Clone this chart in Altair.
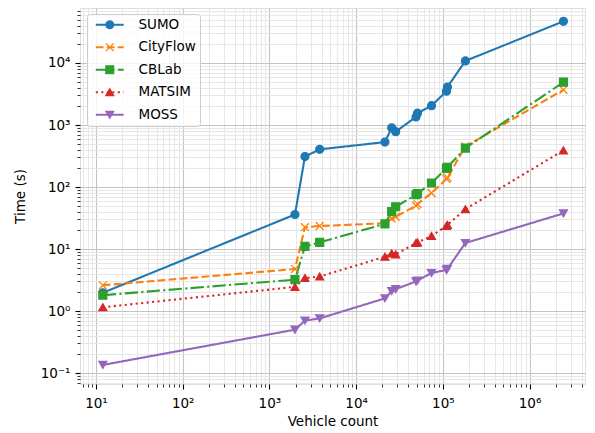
import altair as alt
import pandas as pd

# ---------------- data ----------------
series_names = ["SUMO", "CityFlow", "CBLab", "MATSIM", "MOSS"]
vehicles = [12, 1970, 2570, 3800, 21500, 25700, 28600, 49000, 51000, 74000, 110000, 113000, 182000, 2460000]
sumo = [1.97, 36, 310, 405, 530, 900, 780, 1350, 1550, 2050, 3500, 4100, 10800, 47000]
cityflow = [2.6, 4.75, 22.5, 23.5, 26, 31, 33, 50, 53, 80, 135, 142, 450, 3700]
cblab = [1.8, 3.2, 11, 12.8, 25.5, 40, 48, 75, 78, 116, 200, 208, 425, 4900]
matsim = [1.15, 2.45, 3.4, 3.6, 7.5, 8.5, 8.2, 12.5, 12.8, 16.2, 23.5, 24.5, 44, 390]
moss = [0.135, 0.5, 0.7, 0.76, 1.6, 2.1, 2.25, 3.0, 3.1, 4.1, 4.6, 4.8, 12.5, 37.5]

colors = ["#1f77b4", "#ff7f0e", "#2ca02c", "#d62728", "#9467bd"]
dashes = [[1, 0], [7.7, 3.3], [13.3, 3.3, 2.1, 3.3], [2.1, 3.4], [1, 0]]
shapes = ["circle", "M-1,-1L1,1M-1,1L1,-1", "square", "triangle-up", "triangle-down"]

x_domain = [6.54, 4.36e6]
y_domain = [0.0665, 77100]
x_ticks = [m * 10 ** e for e in range(0, 7) for m in range(1, 10) if x_domain[0] <= m * 10 ** e <= x_domain[1]]
y_ticks = [round(m * 10.0 ** e, 6) for e in range(-2, 5) for m in range(1, 10) if y_domain[0] <= m * 10.0 ** e <= y_domain[1]]

rows = []
for name, vals in zip(series_names, [sumo, cityflow, cblab, matsim, moss]):
    for xv, yv in zip(vehicles, vals):
        rows.append({"Vehicle count": xv, "Time": yv, "series": name, "series_p": name + "_p"})
df = pd.DataFrame(rows)
point_names = [n + "_p" for n in series_names]

# ---------------- helpers ----------------
MAJOR = "abs(log(datum.value)/LN10 - round(log(datum.value)/LN10)) < 0.001"
SUP = "['\u207b\u00b9','\u2070','\u00b9','\u00b2','\u00b3','\u2074','\u2075','\u2076']"
LABEL = f"{MAJOR} ? '10' + {SUP}[round(log(datum.value)/LN10) + 1] : ''"

def axis(title, values, **kw):
    return alt.Axis(
        title=title, values=values, labelExpr=LABEL, labelOverlap=False,
        grid=True,
        gridColor={"condition": {"test": MAJOR, "value": "#c4c4c4"}, "value": "#e4e4e4"},
        gridWidth={"condition": {"test": MAJOR, "value": 1.1}, "value": 0.9},
        tickSize={"condition": {"test": MAJOR, "value": 5}, "value": 3},
        tickWidth={"condition": {"test": MAJOR, "value": 1.1}, "value": 0.8},
        tickColor="#000000", domain=False,
        labelFont="DejaVu Sans", labelFontSize=13.5, labelColor="#000000",
        titleFont="DejaVu Sans", titleFontSize=13.5, titleFontWeight="normal", titleColor="#000000",
        **kw,
    )

x_enc = alt.X("Vehicle count:Q", scale=alt.Scale(type="log", domain=x_domain, nice=False),
              axis=axis("Vehicle count", x_ticks, labelPadding=7, titlePadding=5))
y_enc = alt.Y("Time:Q", scale=alt.Scale(type="log", domain=y_domain, nice=False),
              axis=axis("Time (s)", y_ticks, labelPadding=5, titlePadding=13))

legend_common = dict(
    title=None, orient="none", legendX=7, legendY=6, symbolSize=60,
    symbolOffset=12, labelOffset=22, padding=4, rowPadding=7.5,
    labelFont="DejaVu Sans", labelFontSize=13.5, cornerRadius=3,
)

line_legend = alt.Legend(
    symbolType="M-3.6,0L3.6,0", symbolStrokeWidth=2.1,
    fillColor="rgba(255,255,255,0.8)", strokeColor="#cccccc",
    labelColor="#000000", zindex=1, **legend_common,
)
point_legend = alt.Legend(
    symbolStrokeWidth=1.3, labelColor="transparent", labelExpr="' '", zindex=2, **legend_common,
)

base = alt.Chart(df)

lines = base.mark_line(strokeWidth=2.1, strokeJoin="round", clip=True).encode(
    x=x_enc, y=y_enc,
    color=alt.Color("series:N", scale=alt.Scale(domain=series_names, range=colors), legend=line_legend),
    strokeDash=alt.StrokeDash("series:N", scale=alt.Scale(domain=series_names, range=dashes), legend=line_legend),
    order=alt.Order("Vehicle count:Q"),
)

points = base.mark_point(filled=True, size=62, strokeWidth=1.3, opacity=1, clip=True).encode(
    x=x_enc, y=y_enc,
    fill=alt.Fill("series_p:N", scale=alt.Scale(domain=point_names, range=colors), legend=point_legend),
    stroke=alt.Stroke("series_p:N", scale=alt.Scale(domain=point_names, range=colors), legend=point_legend),
    shape=alt.Shape("series_p:N", scale=alt.Scale(domain=point_names, range=shapes), legend=point_legend),
)

chart = alt.layer(lines, points).properties(
    width=505, height=376,
    autosize=alt.AutoSizeParams(type="none"),
    padding={"left": 72, "top": 0, "right": 2, "bottom": 49},
).configure_view(stroke="#000000", strokeWidth=1.1).configure(background="white")

chart.save("out.html", embed_options={"renderer": "svg", "actions": False})
